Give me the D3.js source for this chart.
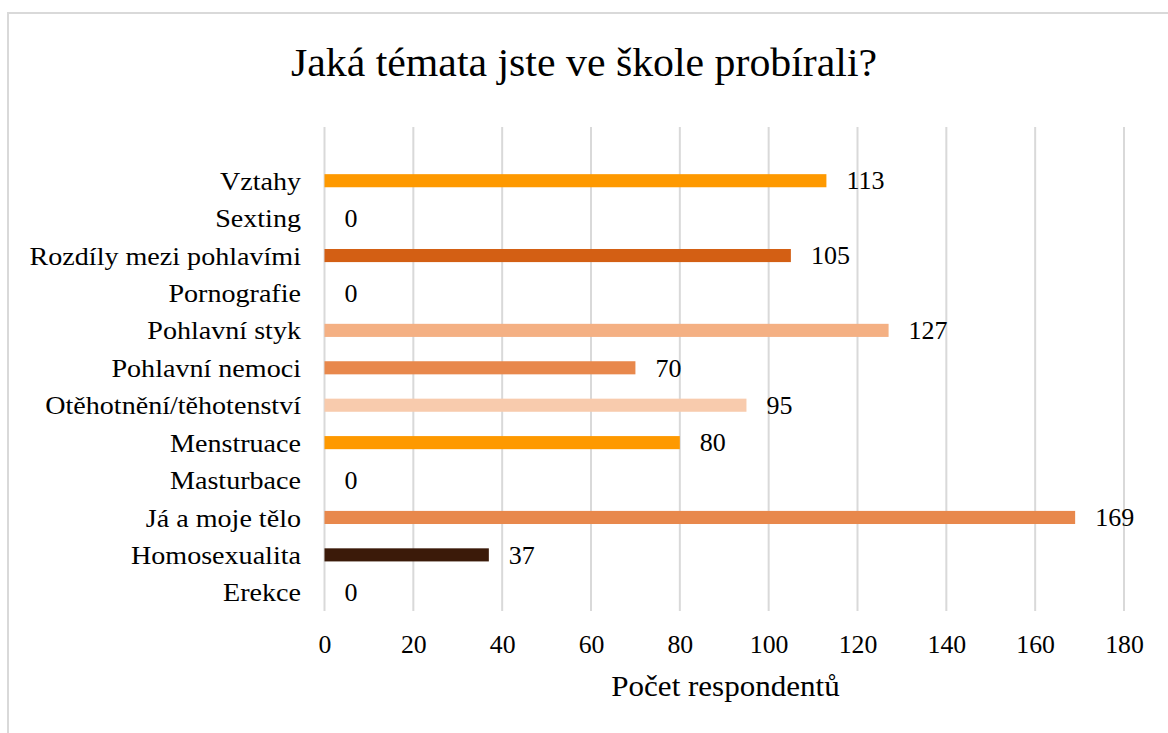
<!DOCTYPE html>
<html>
<head>
<meta charset="utf-8">
<script src="https://cdn.jsdelivr.net/npm/d3@7"></script>
<style>
  body { margin: 0; background: #fff; }
  text { font-family: "Liberation Serif", "Times New Roman", serif; fill: #000; }
</style>
</head>
<body>
<svg id="chart" width="1168" height="733"></svg>
<script>
const categories = ['Vztahy', 'Sexting', 'Rozdíly mezi pohlavími', 'Pornografie', 'Pohlavní styk',
  'Pohlavní nemoci', 'Otěhotnění/těhotenství', 'Menstruace', 'Masturbace', 'Já a moje tělo',
  'Homosexualita', 'Erekce']
const values = [113, 0, 105, 0, 127, 70, 95, 80, 0, 169, 37, 0]
const barColors = ['#fe9900', '#fe9900', '#d35f14', '#d35f14', '#f4b083', '#e8884c',
  '#f8cbad', '#fe9900', '#fe9900', '#e8884c', '#3b1a09', '#3b1a09']
const xTicks = [0, 20, 40, 60, 80, 100, 120, 140, 160, 180]

const svg = d3.select('#chart')

// the picture's text is a bit wider than the serif we have, so stretch it
const widen = (sel, k) => sel.each(function () {
  const w = this.getComputedTextLength()
  d3.select(this).attr('textLength', w * k).attr('lengthAdjust', 'spacingAndGlyphs')
})

// outer frame, only top and left edges show in the picture
svg.append('rect')
  .attr('x', 8).attr('y', 13)
  .attr('width', 1200).attr('height', 800)
  .attr('fill', 'none')
  .attr('stroke', '#d9d9d9')
  .attr('stroke-width', 2)

const x = d3.scaleLinear().domain([0, 180]).range([324.5, 1124])
const y = d3.scaleBand().domain(categories).range([162, 611])
  .paddingInner(0.65).paddingOuter(0.325)

// grid
svg.append('g')
  .selectAll('line')
  .data(xTicks)
  .enter()
  .append('line')
  .attr('x1', d => x(d)).attr('x2', d => x(d))
  .attr('y1', 127).attr('y2', 611)
  .attr('stroke', '#d9d9d9')
  .attr('stroke-width', 2)

// bars
const data = categories.map((c, i) => ({ name: c, value: values[i], color: barColors[i] }))

svg.append('g')
  .selectAll('rect')
  .data(data.filter(d => d.value > 0))
  .enter()
  .append('rect')
  .attr('x', x(0))
  .attr('y', d => y(d.name))
  .attr('width', d => x(d.value) - x(0))
  .attr('height', y.bandwidth())
  .attr('fill', d => d.color)

// value labels
svg.append('g')
  .selectAll('text')
  .data(data)
  .enter()
  .append('text')
  .text(d => d.value)
  .attr('x', d => x(d.value) + 20)
  .attr('y', d => y(d.name) + y.bandwidth() / 2)
  .attr('dy', '0.35em')
  .style('font-size', '25px')
  .call(widen, 1.04)

// category labels
svg.append('g')
  .selectAll('text')
  .data(categories)
  .enter()
  .append('text')
  .text(d => d)
  .attr('x', 301)
  .attr('y', d => y(d) + y.bandwidth() / 2)
  .attr('dy', '0.35em')
  .attr('text-anchor', 'end')
  .style('font-size', '26px')
  .call(widen, 1.08)

// x axis labels
const xAxis = svg.append('g')
  .attr('transform', 'translate(0, 653)')
  .call(d3.axisBottom(x).tickValues(xTicks).tickSize(0).tickPadding(0))
xAxis.select('.domain').remove()
xAxis.selectAll('text')
  .style('font-family', '"Liberation Serif", "Times New Roman", serif')
  .style('font-size', '25px')
  .attr('fill', '#000')
  .attr('dy', 0)
  .call(widen, 1.03)

svg.append('text')
  .text('Počet respondentů')
  .attr('x', 725.5)
  .attr('y', 696)
  .attr('text-anchor', 'middle')
  .style('font-size', '29px')
  .call(widen, 1.07)

svg.append('text')
  .text('Jaká témata jste ve škole probírali?')
  .attr('x', 584)
  .attr('y', 76)
  .attr('text-anchor', 'middle')
  .style('font-size', '40px')
  .call(widen, 1.045)
</script>
</body>
</html>
